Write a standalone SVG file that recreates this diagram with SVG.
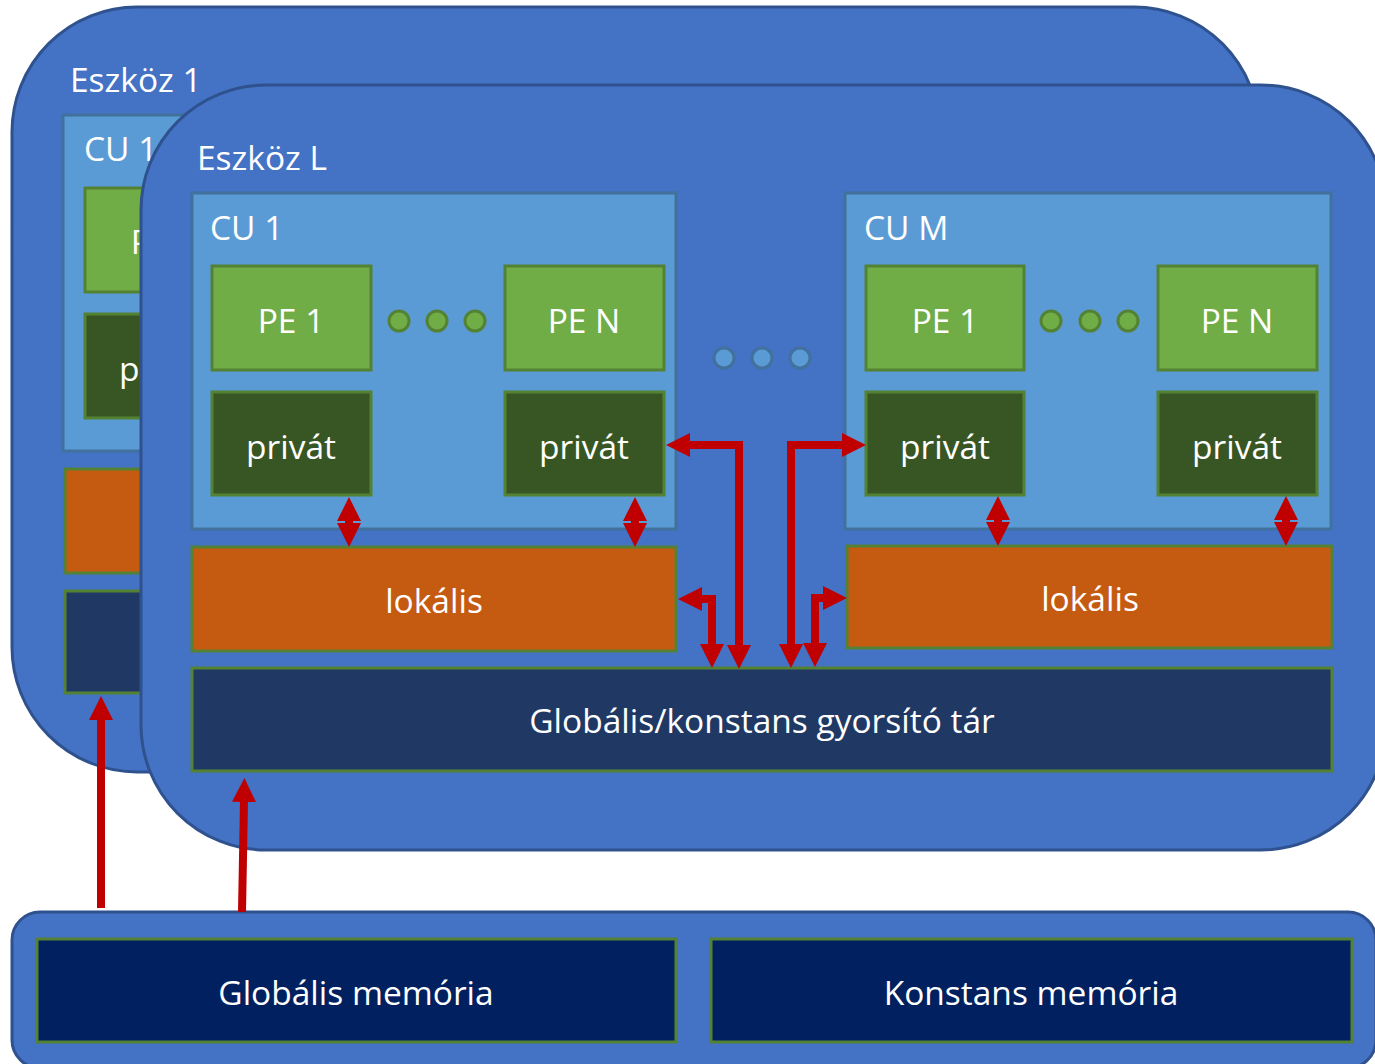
<svg xmlns="http://www.w3.org/2000/svg" width="1375" height="1064" viewBox="0 0 1375 1064">
<style>
.dev{fill:#4472C4;stroke:#2F528F;stroke-width:3}
.cu{fill:#5B9BD5;stroke:#41719C;stroke-width:3}
.pe{fill:#70AD47;stroke:#548235;stroke-width:3}
.pr{fill:#375623;stroke:#548235;stroke-width:3}
.lok{fill:#C55A11;stroke:#548235;stroke-width:3}
.gc{fill:#203864;stroke:#548235;stroke-width:3}
.mem{fill:#002060;stroke:#548235;stroke-width:3}
.dot{fill:#70AD47;stroke:#548235;stroke-width:3}
.bdot{fill:#5B9BD5;stroke:#41719C;stroke-width:3}
text{font-family:"Open Sans","Liberation Sans",sans-serif;font-size:33.5px;fill:#FFFFFF}
.c{text-anchor:middle}
.arr{fill:none;stroke:#C00000;stroke-width:8;marker-start:url(#ah);marker-end:url(#ah)}
.arr1{fill:none;stroke:#C00000;stroke-width:8;marker-end:url(#ah)}
</style>
<defs>
<marker id="ah" markerUnits="userSpaceOnUse" markerWidth="24" markerHeight="24" viewBox="0 0 24 24" refX="1" refY="12" orient="auto-start-reverse">
<path d="M0,0 L24,12 L0,24 Z" fill="#C00000"/>
</marker>
</defs>

<g id="device1">
<rect class="dev" x="12" y="7" width="1247" height="765" rx="125" ry="125"/>
<text x="70" y="92">Eszköz 1</text>
<rect class="cu" x="63" y="115" width="484" height="336"/>
<text x="84" y="161">CU 1</text>
<rect class="pe" x="85" y="188" width="159" height="104"/>
<text class="c" x="164" y="254">PE 1</text>
<rect class="pr" x="85" y="314" width="159" height="104"/>
<text class="c" x="164" y="381">privát</text>
<rect class="lok" x="65" y="469" width="484" height="104"/>
<rect class="gc" x="65" y="591" width="1140" height="102"/>
</g>

<g id="deviceL">
<rect class="dev" x="141" y="85" width="1245" height="765" rx="125" ry="125"/>
<text x="197" y="170">Eszköz L</text>
</g>

<g id="cu1">
<rect class="cu" x="192" y="193" width="484" height="336"/>
<text x="210" y="240">CU 1</text>
</g>
<g id="cu1-pe1"><rect class="pe" x="212" y="266" width="159" height="104"/><text class="c" x="291" y="333">PE 1</text></g>
<g id="cu1-dots"><circle class="dot" cx="399" cy="321" r="10"/><circle class="dot" cx="437" cy="321" r="10"/><circle class="dot" cx="475" cy="321" r="10"/></g>
<g id="cu1-peN"><rect class="pe" x="505" y="266" width="159" height="104"/><text class="c" x="584" y="333">PE N</text></g>
<g id="cu1-priv1"><rect class="pr" x="212" y="392" width="159" height="103"/><text class="c" x="291" y="459">privát</text></g>
<g id="cu1-privN"><rect class="pr" x="505" y="392" width="159" height="103"/><text class="c" x="584" y="459">privát</text></g>
<g id="cu1-lok"><rect class="lok" x="192" y="547" width="484" height="104"/><text class="c" x="434" y="613">lokális</text></g>

<g id="cuM">
<rect class="cu" x="845" y="193" width="486" height="336"/>
<text x="864" y="240">CU M</text>
</g>
<g id="cuM-pe1"><rect class="pe" x="866" y="266" width="158" height="104"/><text class="c" x="945" y="333">PE 1</text></g>
<g id="cuM-dots"><circle class="dot" cx="1051" cy="321" r="10"/><circle class="dot" cx="1090" cy="321" r="10"/><circle class="dot" cx="1128" cy="321" r="10"/></g>
<g id="cuM-peN"><rect class="pe" x="1158" y="266" width="159" height="104"/><text class="c" x="1237" y="333">PE N</text></g>
<g id="cuM-priv1"><rect class="pr" x="866" y="392" width="158" height="103"/><text class="c" x="945" y="459">privát</text></g>
<g id="cuM-privN"><rect class="pr" x="1158" y="392" width="159" height="103"/><text class="c" x="1237" y="459">privát</text></g>
<g id="cuM-lok"><rect class="lok" x="847" y="546" width="485" height="102"/><text class="c" x="1090" y="611">lokális</text></g>

<g id="cu-dots"><circle class="bdot" cx="724" cy="358" r="10"/><circle class="bdot" cx="762" cy="358" r="10"/><circle class="bdot" cx="800" cy="358" r="10"/></g>

<g id="cache"><rect class="gc" x="192" y="668" width="1140" height="103"/><text class="c" x="762" y="733">Globális/konstans gyorsító tár</text></g>

<g id="host">
<rect class="dev" x="12" y="912" width="1364" height="156" rx="28" ry="28"/>
</g>
<g id="globalmem"><rect class="mem" x="37" y="939" width="639" height="103"/><text class="c" x="356" y="1005">Globális memória</text></g>
<g id="constmem"><rect class="mem" x="711" y="939" width="641" height="103"/><text class="c" x="1031" y="1005">Konstans memória</text></g>

<g id="connectors">
<path class="arr" d="M349,520 L349,524"/>
<path class="arr" d="M635,520 L635,524"/>
<path class="arr" d="M998,519 L998,523"/>
<path class="arr" d="M1286,519 L1286,523"/>
<path class="arr" d="M689,445 L739,445 L739,646"/>
<path class="arr" d="M701,599 L712,599 L712,645"/>
<path class="arr" d="M843,445 L791,445 L791,645"/>
<path class="arr" d="M824,598 L815,598 L815,644"/>
<path class="arr1" d="M101,908 L101,719"/>
<path class="arr1" d="M242,912 L244,801"/>
</g>
</svg>
